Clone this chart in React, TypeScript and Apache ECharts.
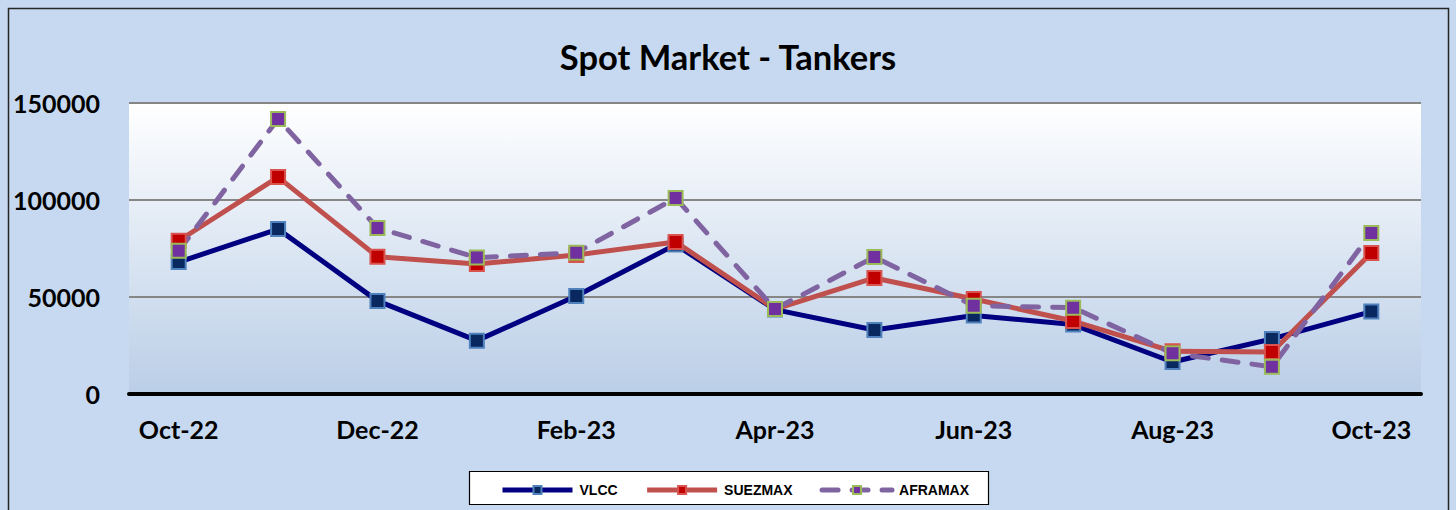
import React, { useEffect, useRef } from "react";
import * as echarts from "echarts";

const categories = ["Oct-22", "Nov-22", "Dec-22", "Jan-23", "Feb-23", "Mar-23", "Apr-23", "May-23", "Jun-23", "Jul-23", "Aug-23", "Sep-23", "Oct-23"];
const vlcc = [68000, 85000, 48000, 27500, 50500, 77000, 43500, 33000, 40500, 35800, 16500, 28400, 42500];
const suezmax = [79000, 111800, 70800, 67000, 71700, 78400, 43800, 59800, 49000, 37600, 22000, 21700, 72700];
const aframax = [73800, 141800, 85600, 70300, 72800, 101000, 43800, 70600, 45500, 44500, 21000, 14000, 83000];
const yTicks = { min: 0, max: 150000, interval: 50000 };

export default function App() {
  const ref = useRef<HTMLDivElement>(null);
  useEffect(() => {
    if (!ref.current) return;
    const chart = echarts.init(ref.current, null, { renderer: "svg" });
    const labelFont = { fontFamily: "Lato", fontWeight: "bold" as const, fontSize: 25, color: "#000" };
    chart.setOption({
      animation: false,
      backgroundColor: "#C6D9F0",
      title: {
        text: "Spot Market - Tankers",
        left: "center",
        top: 34,
        textStyle: { fontFamily: "Lato", fontWeight: "bold", fontSize: 34.5, color: "#000" },
      },
      graphic: [
        {
          type: "rect",
          shape: { x: 8.5, y: 8.5, width: 1440, height: 600 },
          style: { fill: "none", stroke: "#262626", lineWidth: 1.5 },
          silent: true,
          z: -1,
        },
        {
          type: "rect",
          shape: { x: 469.5, y: 471.5, width: 519, height: 33 },
          style: { fill: "#FFFFFF", stroke: "#000", lineWidth: 1.2 },
          silent: true,
          z: 0,
        },
      ],
      legend: {
        left: 500,
        top: 483,
        padding: 0,
        itemWidth: 70,
        itemHeight: 10,
        itemGap: 27,
        z: 10,
        lineStyle: { width: 5 },
        textStyle: { fontFamily: "Liberation Sans", fontWeight: "bold", fontSize: 14, color: "#000", padding: [0, 0, 0, 2] },
        data: ["VLCC", "SUEZMAX", "AFRAMAX"],
      },
      grid: {
        left: 129,
        right: 35,
        top: 103,
        bottom: 116,
        show: true,
        borderWidth: 0,
        backgroundColor: {
          type: "linear",
          x: 0, y: 0, x2: 0, y2: 1,
          colorStops: [
            { offset: 0, color: "#FFFFFF" },
            { offset: 1, color: "#BACEE7" },
          ],
        },
      },
      xAxis: {
        type: "category",
        data: categories,
        boundaryGap: true,
        axisLine: { show: true, lineStyle: { color: "#000", width: 4 } },
        axisTick: { show: false },
        axisLabel: { ...labelFont, interval: 1, margin: 22 },
      },
      yAxis: {
        type: "value",
        ...yTicks,
        axisLine: { show: false },
        axisTick: { show: false },
        axisLabel: { ...labelFont, margin: 29, formatter: (v: number) => String(v) },
        splitLine: { show: true, lineStyle: { color: "#868686", width: 2 } },
      },
      series: [
        {
          name: "VLCC",
          type: "line",
          data: vlcc,
          symbol: "rect",
          symbolSize: 14,
          lineStyle: { color: "#000080", width: 5 },
          itemStyle: { color: "#0A2860", borderColor: "#4F81BD", borderWidth: 2 },
        },
        {
          name: "SUEZMAX",
          type: "line",
          data: suezmax,
          symbol: "rect",
          symbolSize: 14,
          lineStyle: { color: "#C0504D", width: 5 },
          itemStyle: { color: "#C00000", borderColor: "#D9534F", borderWidth: 2 },
        },
        {
          name: "AFRAMAX",
          type: "line",
          data: aframax,
          symbol: "rect",
          symbolSize: 14,
          lineStyle: { color: "#8064A2", width: 5, type: [16, 14], cap: "round" },
          itemStyle: { color: "#7030A0", borderColor: "#9BBB59", borderWidth: 2 },
        },
      ],
    });
    return () => chart.dispose();
  }, []);
  return <div ref={ref} style={{ position: "fixed", left: 0, top: 0, width: 1456, height: 510 }} />;
}
